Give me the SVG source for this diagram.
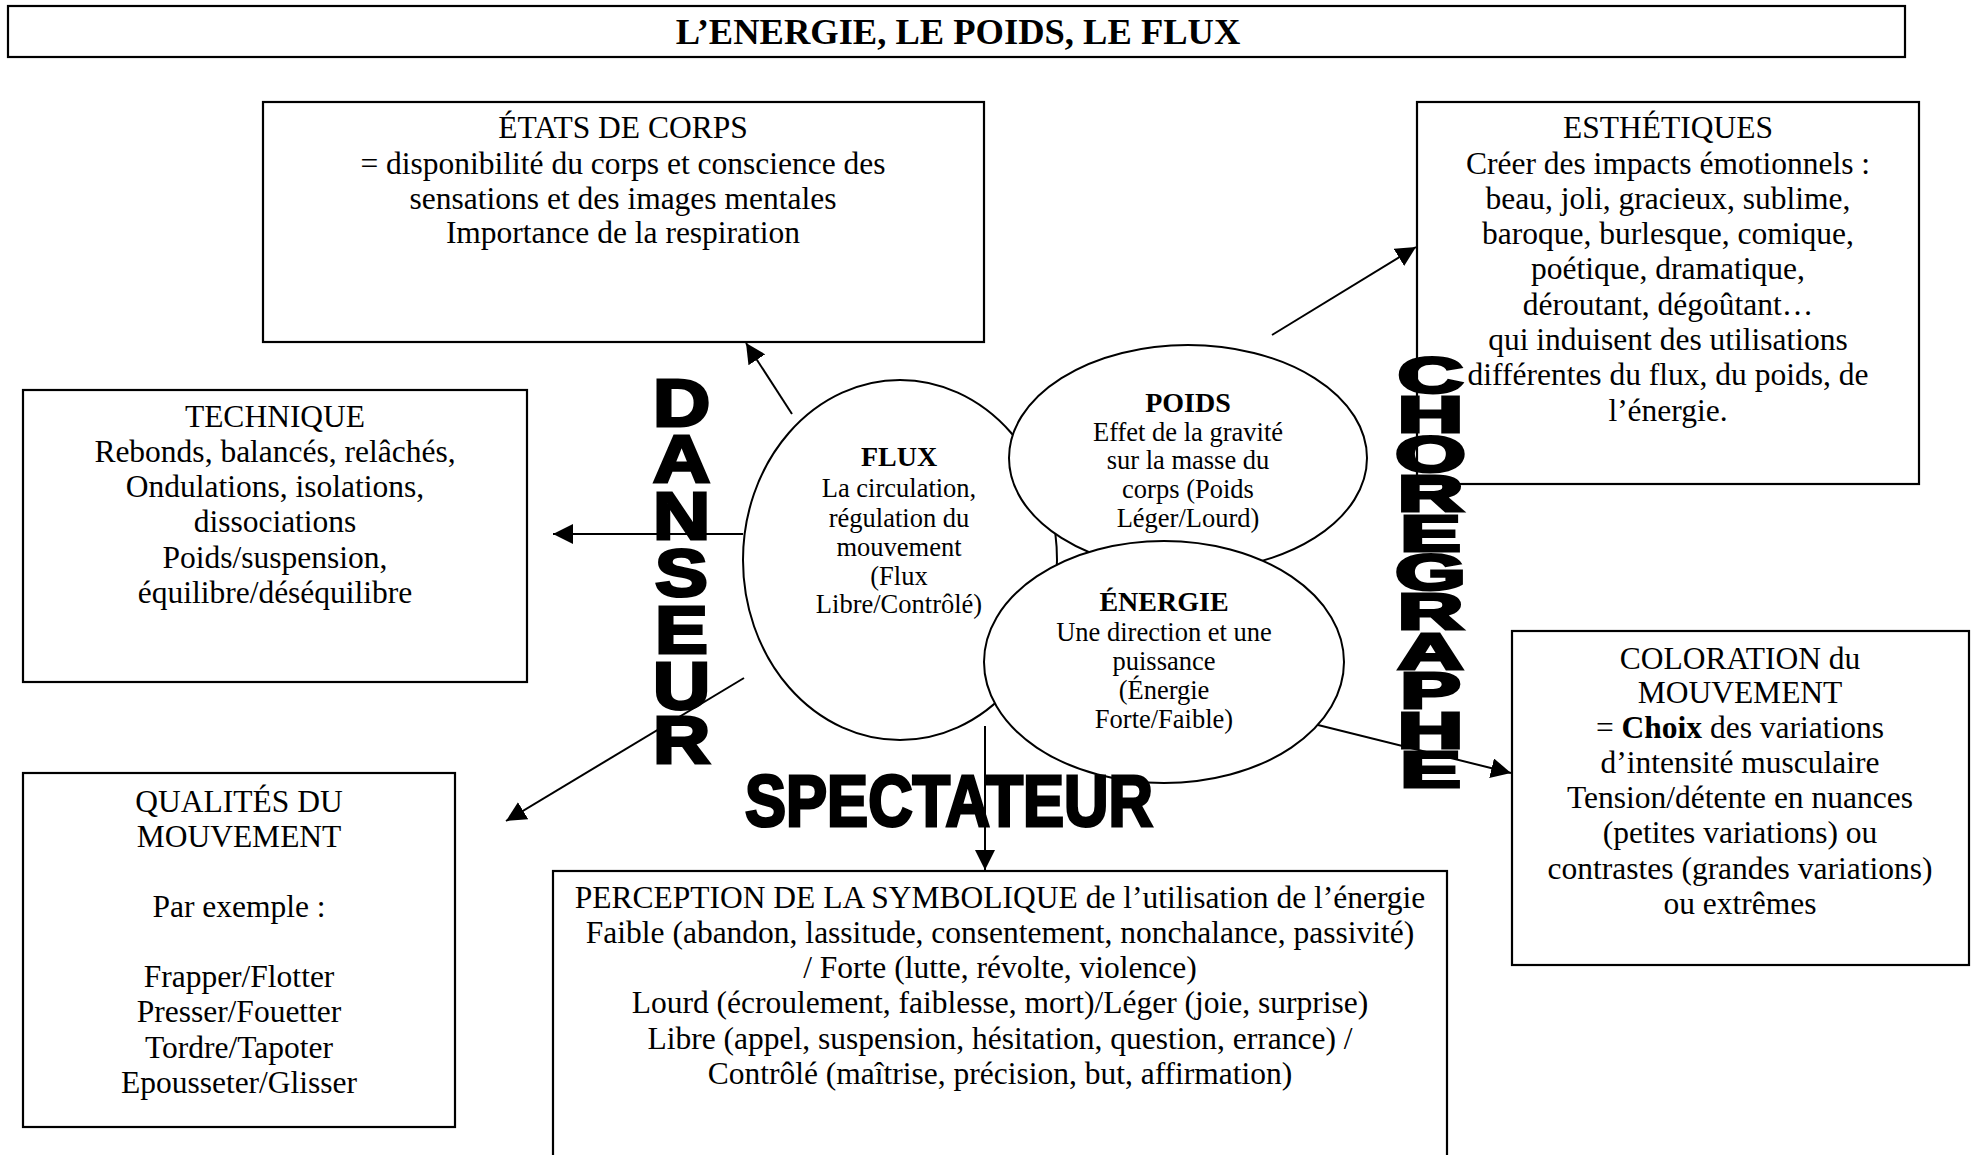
<svg xmlns="http://www.w3.org/2000/svg" width="1975" height="1155" viewBox="0 0 1975 1155">
<defs>
<style>
.box{fill:#fff;stroke:#000;stroke-width:2.2}
.ell{fill:#fff;stroke:#000;stroke-width:2}
.t{font-family:"Liberation Serif","Times New Roman",serif;font-size:31.5px;fill:#000;text-anchor:middle}
.c{font-family:"Liberation Serif","Times New Roman",serif;font-size:26.5px;fill:#000;text-anchor:middle}
.h{font-family:"Liberation Serif","Times New Roman",serif;font-size:28px;font-weight:bold;fill:#000;text-anchor:middle}
.big{font-family:"Liberation Sans",Arial,sans-serif;font-weight:bold;fill:#000;stroke:#000;stroke-width:3;stroke-linejoin:miter;text-anchor:middle}
.conn{stroke:#000;stroke-width:2;fill:none}
</style>
<marker id="ah" viewBox="0 0 20 20" refX="20" refY="10" markerWidth="20" markerHeight="20" markerUnits="userSpaceOnUse" orient="auto">
<path d="M0,0 L20,10 L0,20 z" fill="#000"/>
</marker>
</defs>
<rect width="1975" height="1155" fill="#fff"/>

<g id="title">
<rect class="box" x="8" y="6" width="1897" height="51"/>
<text x="958" y="44" style="font-family:'Liberation Serif','Times New Roman',serif;font-size:36.5px;font-weight:bold;text-anchor:middle">L’ENERGIE, LE POIDS, LE FLUX</text>
</g>

<g id="etats">
<rect class="box" x="263" y="102" width="721" height="240"/>
<text class="t" x="623" y="138">ÉTATS DE CORPS</text>
<text class="t" x="623" y="174">= disponibilité du corps et conscience des</text>
<text class="t" x="623" y="209">sensations et des images mentales</text>
<text class="t" x="623" y="243">Importance de la respiration</text>
</g>

<g id="esthetiques">
<rect class="box" x="1417" y="102" width="502" height="382"/>
<text class="t" x="1668" y="138">ESTHÉTIQUES</text>
<text class="t" x="1668" y="174">Créer des impacts émotionnels :</text>
<text class="t" x="1668" y="209">beau, joli, gracieux, sublime,</text>
<text class="t" x="1668" y="244">baroque, burlesque, comique,</text>
<text class="t" x="1668" y="279">poétique, dramatique,</text>
<text class="t" x="1668" y="315">déroutant, dégoûtant…</text>
<text class="t" x="1668" y="350">qui induisent des utilisations</text>
<text class="t" x="1668" y="385">différentes du flux, du poids, de</text>
<text class="t" x="1668" y="421">l’énergie.</text>
</g>

<g id="technique">
<rect class="box" x="23" y="390" width="504" height="292"/>
<text class="t" x="275" y="427">TECHNIQUE</text>
<text class="t" x="275" y="462">Rebonds, balancés, relâchés,</text>
<text class="t" x="275" y="497">Ondulations, isolations,</text>
<text class="t" x="275" y="532">dissociations</text>
<text class="t" x="275" y="568">Poids/suspension,</text>
<text class="t" x="275" y="603">équilibre/déséquilibre</text>
</g>

<g id="qualites">
<rect class="box" x="23" y="773" width="432" height="354"/>
<text class="t" x="239" y="812">QUALITÉS DU</text>
<text class="t" x="239" y="847">MOUVEMENT</text>
<text class="t" x="239" y="917">Par exemple :</text>
<text class="t" x="239" y="987">Frapper/Flotter</text>
<text class="t" x="239" y="1022">Presser/Fouetter</text>
<text class="t" x="239" y="1058">Tordre/Tapoter</text>
<text class="t" x="239" y="1093">Epousseter/Glisser</text>
</g>

<g id="perception">
<rect class="box" x="553" y="871" width="894" height="300"/>
<text class="t" x="1000" y="908">PERCEPTION DE LA SYMBOLIQUE de l’utilisation de l’énergie</text>
<text class="t" x="1000" y="943">Faible (abandon, lassitude, consentement, nonchalance, passivité)</text>
<text class="t" x="1000" y="978">/ Forte (lutte, révolte, violence)</text>
<text class="t" x="1000" y="1013">Lourd (écroulement, faiblesse, mort)/Léger (joie, surprise)</text>
<text class="t" x="1000" y="1049">Libre (appel, suspension, hésitation, question, errance) /</text>
<text class="t" x="1000" y="1084">Contrôlé (maîtrise, précision, but, affirmation)</text>
</g>

<g id="coloration">
<rect class="box" x="1512" y="631" width="457" height="334"/>
<text class="t" x="1740" y="669">COLORATION du</text>
<text class="t" x="1740" y="703">MOUVEMENT</text>
<text class="t" x="1740" y="738">= <tspan font-weight="bold">Choix</tspan> des variations</text>
<text class="t" x="1740" y="773">d’intensité musculaire</text>
<text class="t" x="1740" y="808">Tension/détente en nuances</text>
<text class="t" x="1740" y="843">(petites variations) ou</text>
<text class="t" x="1740" y="879">contrastes (grandes variations)</text>
<text class="t" x="1740" y="914">ou extrêmes</text>
</g>

<g id="connectors">
<line class="conn" x1="792" y1="414" x2="746" y2="343" marker-end="url(#ah)"/>
<line class="conn" x1="743" y1="534" x2="553" y2="534" marker-end="url(#ah)"/>
<line class="conn" x1="744" y1="678" x2="506" y2="821" marker-end="url(#ah)"/>
<line class="conn" x1="1272" y1="335" x2="1416" y2="247" marker-end="url(#ah)"/>
<line class="conn" x1="985" y1="726" x2="985" y2="870" marker-end="url(#ah)"/>
<line class="conn" x1="1318" y1="725" x2="1511" y2="773" marker-end="url(#ah)"/>
</g>

<g id="flux">
<ellipse class="ell" cx="900" cy="560" rx="157" ry="180"/>
<text class="h" x="899" y="466">FLUX</text>
<text class="c" x="899" y="497">La circulation,</text>
<text class="c" x="899" y="527">régulation du</text>
<text class="c" x="899" y="556">mouvement</text>
<text class="c" x="899" y="585">(Flux</text>
<text class="c" x="899" y="613">Libre/Contrôlé)</text>
</g>

<g id="poids">
<ellipse class="ell" cx="1188" cy="458" rx="179" ry="113"/>
<text class="h" x="1188" y="412">POIDS</text>
<text class="c" x="1188" y="441">Effet de la gravité</text>
<text class="c" x="1188" y="469">sur la masse du</text>
<text class="c" x="1188" y="498">corps (Poids</text>
<text class="c" x="1188" y="527">Léger/Lourd)</text>
</g>

<g id="energie">
<ellipse class="ell" cx="1164" cy="662" rx="180" ry="121"/>
<text class="h" x="1164" y="611">ÉNERGIE</text>
<text class="c" x="1164" y="641">Une direction et une</text>
<text class="c" x="1164" y="670">puissance</text>
<text class="c" x="1164" y="699">(Énergie</text>
<text class="c" x="1164" y="728">Forte/Faible)</text>
</g>

<g id="danseur" transform="translate(681.5,0) scale(1.2,1) translate(-681.5,0)">
<text class="big" font-size="66" x="681.5 681.5 681.5 681.5 681.5 681.5 681.5" y="426 482 539 596 653 709 763">DANSEUR</text>
</g>

<g id="choregraphe" transform="translate(1430.5,0) scale(1.85,1) translate(-1430.5,0)">
<text class="big" font-size="49" x="1430.5 1430.5 1430.5 1430.5 1430.5 1430.5 1430.5 1430.5 1430.5 1430.5 1430.5" y="393 432 472 511 551 590 629 669 708 748 787">CHOREGRAPHE</text>
</g>

<g id="spectateur">
<text class="big" font-size="72" x="949" y="826" textLength="408" lengthAdjust="spacingAndGlyphs">SPECTATEUR</text>
</g>
</svg>
